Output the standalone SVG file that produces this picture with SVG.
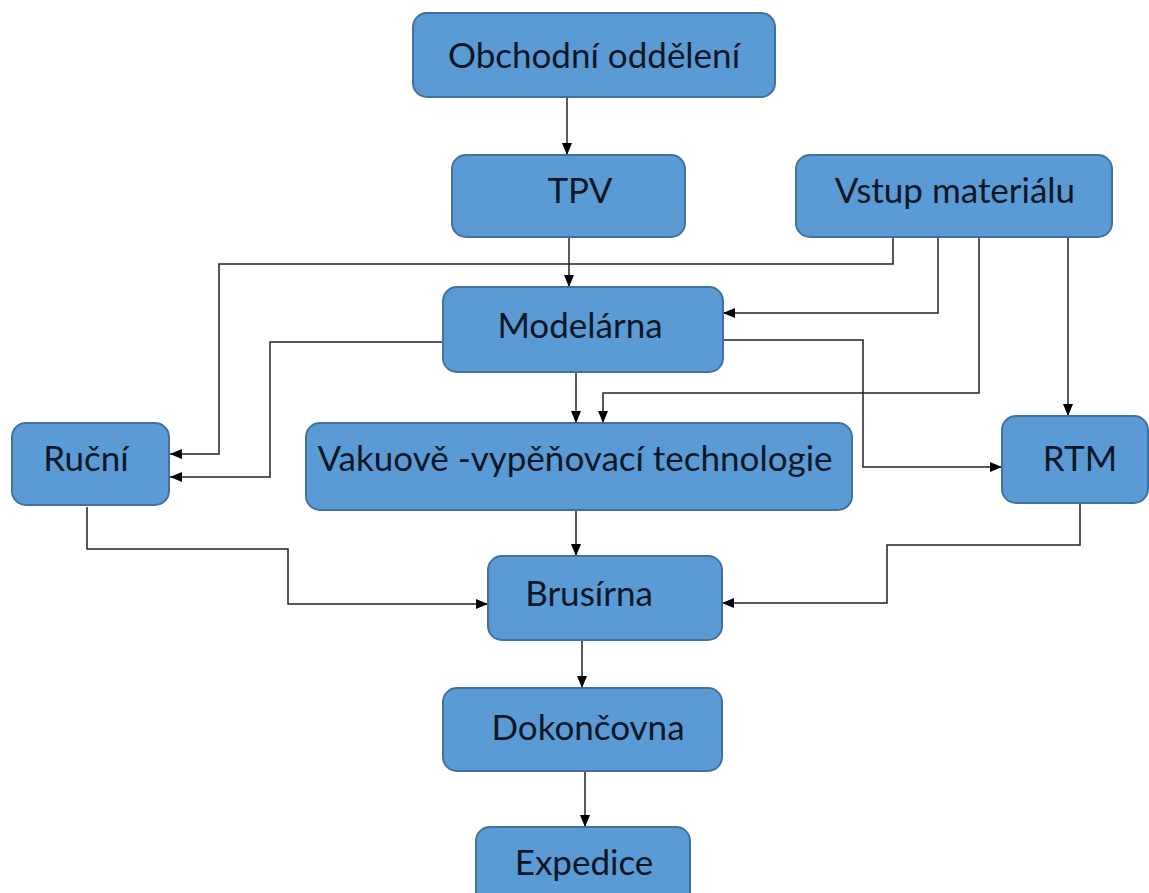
<svg xmlns="http://www.w3.org/2000/svg" width="1149" height="893" viewBox="0 0 1149 893">
<style>
.box{fill:#5B9BD5;stroke:#41719C;stroke-width:2}
.lbl{font-family:Lato,"Open Sans","Liberation Sans",sans-serif;font-size:35px;fill:#0B1626;text-anchor:middle;dominant-baseline:central}
.c{fill:none;stroke:#222;stroke-width:1.5}
</style>
<defs>
<marker id="ah" viewBox="0 0 12 10" refX="12" refY="5" markerWidth="12" markerHeight="10" markerUnits="userSpaceOnUse" orient="auto">
<path d="M0,0 L12,5 L0,10 z" fill="#000"/>
</marker>
</defs>
<rect width="1149" height="893" fill="#fff"/>
<g id="connectors">
<path class="c" marker-end="url(#ah)" d="M567,97 V155"/>
<path class="c" marker-end="url(#ah)" d="M569,237 V287"/>
<path class="c" marker-end="url(#ah)" d="M893,237 V264 H219 V454 H170"/>
<path class="c" marker-end="url(#ah)" d="M443,342 H270 V477 H170"/>
<path class="c" marker-end="url(#ah)" d="M938,237 V313 H723"/>
<path class="c" marker-end="url(#ah)" d="M979,237 V393 H603 V423"/>
<path class="c" marker-end="url(#ah)" d="M1068,237 V416"/>
<path class="c" marker-end="url(#ah)" d="M576,372 V423"/>
<path class="c" marker-end="url(#ah)" d="M723,340 H863 V467 H1002"/>
<path class="c" marker-end="url(#ah)" d="M87,507 V549 H288 V604 H488"/>
<path class="c" marker-end="url(#ah)" d="M576,510 V556"/>
<path class="c" marker-end="url(#ah)" d="M1080,503 V545 H887 V603 H722"/>
<path class="c" marker-end="url(#ah)" d="M582,640 V688"/>
<path class="c" marker-end="url(#ah)" d="M585,771 V827"/>
</g>
<g id="n-obchodni"><rect class="box" x="413" y="13" width="362" height="84" rx="14"/><text class="lbl" x="594" y="54">Obchodní oddělení</text></g>
<g id="n-tpv"><rect class="box" x="452" y="155" width="233" height="82" rx="14"/><text class="lbl" x="580" y="189">TPV</text></g>
<g id="n-vstup"><rect class="box" x="796" y="155" width="316" height="82" rx="14"/><text class="lbl" x="955" y="189">Vstup materiálu</text></g>
<g id="n-modelarna"><rect class="box" x="443" y="287" width="280" height="85" rx="14"/><text class="lbl" x="580" y="324">Modelárna</text></g>
<g id="n-rucni"><rect class="box" x="12" y="423" width="157" height="82" rx="14"/><text class="lbl" x="86" y="457">Ruční</text></g>
<g id="n-vakuove"><rect class="box" x="306" y="423" width="546" height="87" rx="14"/><text class="lbl" x="575" y="457">Vakuově -vypěňovací technologie</text></g>
<g id="n-rtm"><rect class="box" x="1002" y="416" width="146" height="87" rx="14"/><text class="lbl" x="1080" y="457">RTM</text></g>
<g id="n-brusirna"><rect class="box" x="488" y="556" width="234" height="84" rx="14"/><text class="lbl" x="589" y="592">Brusírna</text></g>
<g id="n-dokoncovna"><rect class="box" x="443" y="688" width="279" height="83" rx="14"/><text class="lbl" x="588" y="726">Dokončovna</text></g>
<g id="n-expedice"><rect class="box" x="476" y="827" width="214" height="80" rx="14"/><text class="lbl" x="584" y="861">Expedice</text></g>
</svg>
